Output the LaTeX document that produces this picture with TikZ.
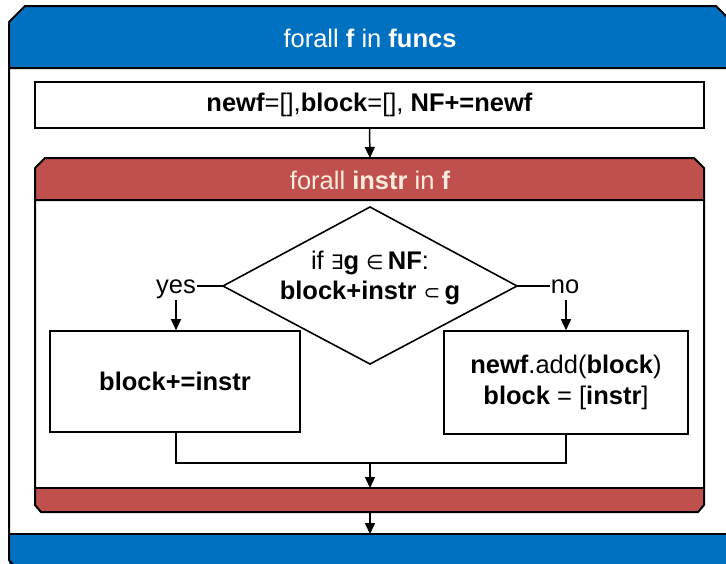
\documentclass[tikz,border=0pt]{standalone}
\usepackage{fontspec}
\setmainfont{Liberation Sans}
\newfontfamily\symf{DejaVu Sans}
\usetikzlibrary{arrows.meta}
\definecolor{hblue}{RGB}{0,112,192}
\definecolor{hred}{RGB}{192,80,77}
\definecolor{cream}{RGB}{253,236,222}
\newcommand{\smsym}[1]{{\symf\fontsize{20}{24}\selectfont #1}}
\tikzset{
  frame/.style={draw=black, line width=2pt},
  boxnode/.style={draw=black, line width=1.6pt, fill=white, inner sep=0pt, align=center, font=\fontsize{25.5}{30.5}\selectfont},
  lbl/.style={inner sep=1pt, font=\fontsize{25.5}{30.5}\selectfont},
  conn/.style={draw=black, line width=1.5pt},
  arr/.style={conn, -{Triangle[length=11pt,width=10pt]}},
}
\begin{document}
\begin{tikzpicture}[x=1pt,y=-1pt]
\useasboundingbox (0,0) rectangle (726,563);
% outer loop (blue)
\fill[white] (9,580) -- (9,22) -- (25,6) -- (716,6) -- (740,30) -- (740,580) -- cycle;
\fill[hblue] (9,68) -- (9,22) -- (25,6) -- (716,6) -- (740,30) -- (740,68) -- cycle;
\draw[frame] (740,68) -- (9,68) -- (9,22) -- (25,6) -- (716,6) -- (740,30);
\fill[hblue] (9,534) rectangle (740,580);
\draw[frame] (9,68) -- (9,560) -- (14,566);
\draw[frame] (9,534) -- (740,534);
\node[text=white, lbl] (outerTitle) at (370,38) {forall \textbf{f} in \textbf{funcs}};
% init box
\node[boxnode, minimum width=669pt, minimum height=46pt] (init) at (369.5,105) {\textbf{newf}=[],\textbf{block}=[], \textbf{NF+=newf}};
% inner loop (red)
\fill[white] (35,200) rectangle (704,488);
\fill[hred] (35,200) -- (35,168) -- (45,158) -- (694,158) -- (704,168) -- (704,200) -- cycle;
\draw[frame] (35,200) -- (35,168) -- (45,158) -- (694,158) -- (704,168) -- (704,200) -- cycle;
\fill[hred] (35,488) -- (704,488) -- (704,505) -- (698,512) -- (41,512) -- (35,505) -- cycle;
\draw[frame] (35,200) -- (35,505) -- (41,512) -- (698,512) -- (704,505) -- (704,200);
\draw[frame] (35,488) -- (704,488);
\coordinate (redTop) at (370,158);
\coordinate (redBotTop) at (370,488);
\coordinate (redBotBot) at (370,512);
\coordinate (blueBot) at (370,534);
\node[text=cream, lbl] (innerTitle) at (370,180) {forall \textbf{instr} in \textbf{f}};
% decision
\coordinate (dl) at (223,286);
\coordinate (dr) at (517,286);
\coordinate (dt) at (370,207);
\coordinate (db) at (370,364);
\draw[conn, fill=white, line width=1.6pt] (dl) -- (dt) -- (dr) -- (db) -- cycle;
\node[lbl, align=center] (cond) at (370,278) {if \smsym{∃}\textbf{g} \smsym{∈}\,\textbf{NF}:\\ \textbf{block+instr} \smsym{⊂}\,\textbf{g}};
% branch boxes
\node[boxnode, minimum width=250pt, minimum height=101pt] (lbox) at (175,381.5) {\textbf{block+=instr}};
\node[boxnode, minimum width=244pt, minimum height=103pt] (rbox) at (566,382.5) {\textbf{newf}.add(\textbf{block})\\ \textbf{block} = [\textbf{instr}]};
\node[lbl, anchor=base] (yes) at (176,293) {yes};
\node[lbl, anchor=base] (no) at (565,293) {no};
% connectors
\draw[arr] (init.south) -- (redTop);
\draw[conn] (dl) -- (yes.east |- dl);
\draw[conn] (dr) -- (no.west |- dr);
\draw[arr] (176,300) -- (lbox.north -| 176,0);
\draw[arr] (566,300) -- (rbox.north);
\coordinate (merge) at (370,463);
\draw[conn] (lbox.south -| 176,0) -- (176,463) -- (566,463) -- (rbox.south);
\draw[arr] (merge) -- (redBotTop);
\draw[arr] (redBotBot) -- (blueBot);
\end{tikzpicture}
\end{document}
